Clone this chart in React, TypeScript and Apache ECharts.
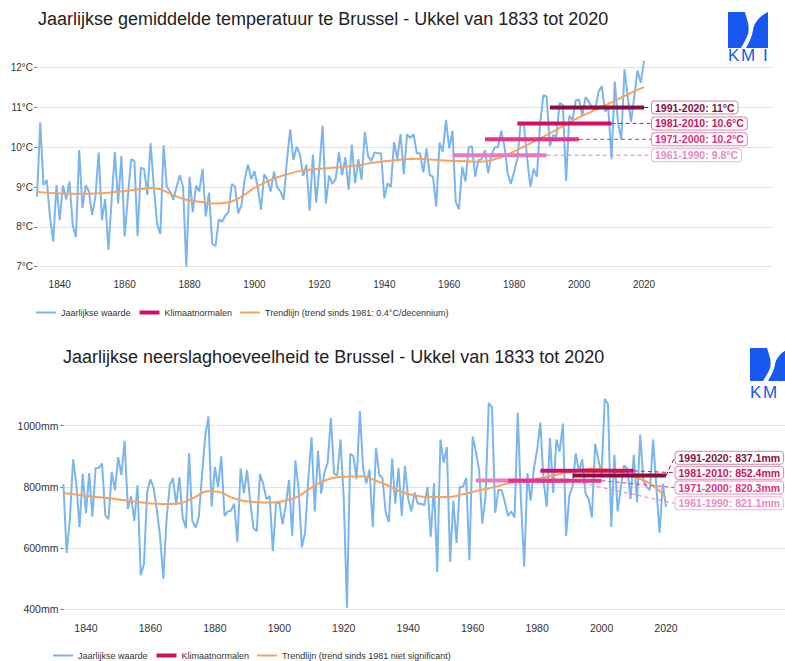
import React, { useEffect, useRef } from 'react';
import * as echarts from 'echarts';

// ---------- DATA ----------
const START_YEAR = 1833;

const tempValues = [
  8.76, 10.62, 9.05, 9.18, 8.25, 7.63, 9.05,
  8.17, 9.04, 8.69, 9.14, 8.05, 7.74, 9.93, 8.47, 9.05, 8.89,
  8.30, 8.76, 9.87, 8.17, 8.70, 7.42, 8.70, 9.88, 8.59, 9.78,
  7.76, 8.76, 9.70, 9.66, 7.77, 9.49, 9.45, 8.80, 10.10, 9.00,
  8.07, 7.82, 10.05, 9.00, 8.89, 8.68, 9.00, 9.30, 9.00, 7.00,
  9.26, 8.37, 9.04, 8.89, 9.46, 8.26, 8.86, 7.57, 7.52, 8.19,
  8.13, 8.28, 8.37, 9.08, 9.01, 8.34, 8.55, 9.20, 9.57, 9.20,
  9.40, 9.00, 8.43, 9.32, 9.18, 8.89, 9.39, 9.00, 8.89, 8.68,
  9.68, 10.45, 9.68, 10.02, 9.82, 9.28, 9.56, 8.41, 9.82, 8.61,
  9.51, 10.54, 8.59, 9.29, 9.08, 9.20, 9.87, 9.30, 9.75, 8.93,
  10.06, 9.10, 9.70, 9.18, 10.39, 9.77, 9.66, 9.87, 9.85, 9.85,
  8.72, 9.10, 9.00, 10.13, 9.71, 10.33, 9.32, 10.33, 10.23, 10.33,
  9.85, 9.85, 9.37, 9.97, 9.30, 9.26, 8.51, 10.12, 9.89, 10.69,
  9.97, 10.42, 8.63, 8.44, 9.51, 9.14, 10.00, 10.03, 9.26, 9.68,
  9.70, 9.93, 9.35, 9.81, 10.00, 10.00, 10.42, 10.03, 9.35, 9.08,
  9.39, 9.72, 10.60, 10.56, 9.72, 9.01, 9.46, 9.26, 10.60, 11.31,
  11.27, 10.03, 10.31, 10.27, 11.12, 11.06, 9.16, 10.79, 10.69, 11.19,
  11.19, 10.79, 11.26, 11.15, 10.98, 10.94, 11.40, 11.54, 10.90, 10.98,
  9.70, 11.65, 10.62, 10.20, 11.96, 11.27, 10.64, 11.27, 11.93, 11.62,
  12.17,
];

const precipValues = [
  809, 584, 692, 890, 811, 668, 843,
  714, 845, 703, 862, 862, 876, 708, 695, 849, 789,
  897, 838, 951, 728, 770, 689, 805, 511, 548, 784,
  825, 797, 724, 638, 499, 692, 805, 829, 741, 832,
  700, 665, 911, 690, 667, 700, 835, 965, 1030, 735,
  865, 800, 900, 705, 720, 722, 745, 620, 860, 780,
  855, 750, 665, 655, 842, 810, 760, 770, 590, 745,
  750, 678, 740, 823, 640, 887, 790, 603, 650, 825,
  962, 720, 918, 778, 848, 878, 1025, 843, 838, 955,
  760, 405, 908, 900, 825, 1048, 860, 812, 857, 668,
  928, 840, 830, 718, 685, 893, 745, 862, 705, 868,
  760, 720, 782, 745, 745, 740, 800, 637, 812, 522,
  955, 880, 930, 555, 755, 617, 800, 800, 830, 560,
  965, 915, 855, 680, 770, 1074, 1060, 715, 790, 790,
  750, 705, 720, 700, 1042, 750, 539, 845, 755, 860,
  920, 1010, 820, 735, 960, 780, 955, 915, 1007, 640,
  771, 800, 910, 850, 890, 780, 760, 700, 940, 890,
  840, 1088, 1070, 669, 905, 720, 800, 870, 860, 760,
  905, 750, 970, 820, 800, 790, 955, 800, 650, 810,
  735,
];

const years = tempValues.map((_, i) => START_YEAR + i);

const tempTrendYears = [1833, 1840, 1845, 1850, 1855, 1860, 1865, 1868, 1871, 1875, 1879, 1883, 1888, 1892, 1896, 1900, 1905, 1910, 1915, 1920, 1925, 1930, 1935, 1940, 1945, 1950, 1955, 1960, 1965, 1970, 1974, 1978, 1980, 1985, 1990, 1995, 2000, 2005, 2010, 2015, 2020];
const tempTrendValues = [8.88, 8.84, 8.83, 8.84, 8.86, 8.90, 8.95, 8.98, 8.94, 8.80, 8.68, 8.63, 8.59, 8.62, 8.76, 8.98, 9.18, 9.32, 9.42, 9.46, 9.49, 9.53, 9.59, 9.65, 9.69, 9.71, 9.69, 9.66, 9.65, 9.64, 9.70, 9.82, 9.90, 10.10, 10.31, 10.53, 10.75, 10.94, 11.13, 11.33, 11.51];

const precipTrendYears = [1833, 1840, 1845, 1850, 1855, 1860, 1864, 1868, 1873, 1878, 1881, 1886, 1892, 1898, 1903, 1906, 1910, 1915, 1920, 1925, 1930, 1934, 1937, 1942, 1947, 1952, 1957, 1962, 1967, 1972, 1978, 1983, 1988, 1993, 1997, 2001, 2005, 2010, 2015, 2020];
const precipTrendValues = [780, 771, 765, 759, 752, 746, 744, 745, 762, 786, 784, 762, 751, 749, 759, 770, 798, 824, 833, 835, 820, 803, 787, 772, 767, 767, 776, 789, 800, 814, 822, 833, 844, 854, 860, 857, 849, 833, 811, 765];

const normalStart = [1961, 1971, 1981, 1991];
const normalEnd = [1990, 2000, 2010, 2020];
const tempNormals = [9.8, 10.2, 10.6, 11.0];
const precipNormals = [821.1, 820.3, 852.4, 837.1];
const tempNormalLabels = ['1961-1990: 9.8°C', '1971-2000: 10.2°C', '1981-2010: 10.6°C', '1991-2020: 11°C'];
const precipNormalLabels = ['1961-1990: 821.1mm', '1971-2000: 820.3mm', '1981-2010: 852.4mm', '1991-2020: 837.1mm'];

const xTickLabels = [1840, 1860, 1880, 1900, 1920, 1940, 1960, 1980, 2000, 2020];

const TITLE_T = 'Jaarlijkse gemiddelde temperatuur te Brussel - Ukkel van 1833 tot 2020';
const TITLE_P = 'Jaarlijkse neerslaghoeveelheid te Brussel - Ukkel van 1833 tot 2020';
const NAME_ANNUAL = 'Jaarlijkse waarde';
const NAME_NORMALS = 'Klimaatnormalen';
const NAME_TREND_T = 'Trendlijn (trend sinds 1981: 0.4°C/decennium)';
const NAME_TREND_P = 'Trendlijn (trend sinds 1981 niet significant)';

// ---------- STYLE / LAYOUT ----------
const FONT = '"Liberation Sans", Arial, Helvetica, sans-serif';
const NARROW = '"Liberation Sans Narrow", "Arial Narrow", "Liberation Sans", sans-serif';
const BLUE = '#7cb5ec';
const ORANGE = '#f7a35c';
const NORMAL_COLORS = ['#e67cbf', '#e8338a', '#cf1060', '#8a0f3e'];
const NORMAL_TEXT = ['#e58ac6', '#de2f80', '#c8145a', '#8a0f3e'];
const NORMAL_BORDER = ['#f2b3da', '#ef86b8', '#e584aa', '#c98ba4'];
const LOGO_BLUE = '#1858f0';

const TEMP_GRID = { left: 37, top: 67.7, width: 735, height: 199 };
const TEMP_X_MAX = START_YEAR + 735 / 3.246;
const TEMP_Y = [7, 12];
const PREC_GRID = { left: 63.4, top: 425.7, width: 721.6, height: 183.6 };
const PREC_X_MAX = START_YEAR + 721.6 / 3.2225;
const PREC_Y = [400, 1000];
const TEMP_LABEL_X = 651;
const PREC_LABEL_X = 674.5;
const PREC_LABEL_Y = [503.3, 487.5, 472.7, 457.7];

echarts.graphic.registerShape(
  'kmiLeft',
  echarts.graphic.extendPath('M0,0 L17,0 C19,8 22,14 20,22 C18,28 15,32 13,36 L0,36 Z', {})
);
echarts.graphic.registerShape(
  'kmiRight',
  echarts.graphic.extendPath('M40,0 L40,36 L18,36 C21,30 24,25 25,18 C26,12 30,5 40,0 Z', {})
);

function pxToYear(grid: any, xMax: number, px: number) {
  return START_YEAR + ((px - grid.left) / grid.width) * (xMax - START_YEAR);
}
function pxToVal(grid: any, range: number[], py: number) {
  return range[1] - ((py - grid.top) / grid.height) * (range[1] - range[0]);
}

function buildSeries(idx: number, values: number[], trendX: number[], trendY: number[], trendName: string,
  normals: number[], labels: string[], labelYear: number, labelVals: number[], fontSize: number) {
  const s: any[] = [];
  s.push({
    type: 'line', name: NAME_ANNUAL, xAxisIndex: idx, yAxisIndex: idx,
    data: years.map((y, i) => [y, values[i]]), symbol: 'none', clip: false, silent: true,
    lineStyle: { width: 2, color: BLUE }, itemStyle: { color: BLUE }, z: 2,
  });
  s.push({
    type: 'line', name: trendName, xAxisIndex: idx, yAxisIndex: idx,
    data: trendX.map((y, i) => [y, trendY[i]]), symbol: 'none', smooth: true, silent: true,
    lineStyle: { width: 2, color: ORANGE }, itemStyle: { color: ORANGE }, z: 3,
  });
  normals.forEach((v, i) => {
    s.push({
      type: 'line', name: i === 2 ? NAME_NORMALS : `normaal-${idx}-${i}`, xAxisIndex: idx, yAxisIndex: idx,
      data: [[normalStart[i], v], [normalEnd[i], v]], symbol: 'none', silent: true,
      lineStyle: { width: 4, color: NORMAL_COLORS[i] }, itemStyle: { color: NORMAL_COLORS[i] }, z: 5 + i,
    });
    s.push({
      type: 'line', name: `verbinding-${idx}-${i}`, xAxisIndex: idx, yAxisIndex: idx,
      data: [[normalEnd[i], v], [labelYear, labelVals[i]]], symbol: 'none', silent: true,
      lineStyle: { width: 1, type: [4, 3], color: NORMAL_COLORS[i] }, itemStyle: { color: NORMAL_COLORS[i] }, z: 4,
      endLabel: {
        show: true, formatter: labels[i], distance: 1, color: NORMAL_TEXT[i], fontSize, fontWeight: 'bold',
        fontFamily: FONT, backgroundColor: '#fff', borderColor: NORMAL_BORDER[i], borderWidth: 1,
        borderRadius: 3, padding: [1, 3, 0, 3],
      },
    });
  });
  return s;
}

function logo(x: number, y: number, sy: number, textY: number, letters: string[]) {
  const offsets = [0, 13, 35];
  const els: any[] = [
    { type: 'kmiLeft', x, y, scaleY: sy, style: { fill: LOGO_BLUE }, silent: true },
    { type: 'kmiRight', x, y, scaleY: sy, style: { fill: LOGO_BLUE }, silent: true },
  ];
  letters.forEach((ch, i) => {
    els.push({ type: 'text', x: x + offsets[i], y: textY, style: { text: ch, fill: LOGO_BLUE, font: `17px ${FONT}` }, silent: true });
  });
  return els;
}

function legendData(trendName: string) {
  return [
    { name: NAME_ANNUAL, lineStyle: { width: 2, color: BLUE } },
    { name: NAME_NORMALS, lineStyle: { width: 4, color: NORMAL_COLORS[2] } },
    { name: trendName, lineStyle: { width: 2, color: ORANGE } },
  ];
}

export default function App() {
  const ref = useRef<HTMLDivElement>(null);
  useEffect(() => {
    if (!ref.current) return;
    const chart = echarts.init(ref.current, undefined, { renderer: 'svg' });
    const tempLabelYear = pxToYear(TEMP_GRID, TEMP_X_MAX, TEMP_LABEL_X);
    const precLabelYear = pxToYear(PREC_GRID, PREC_X_MAX, PREC_LABEL_X);
    const precLabelVals = PREC_LABEL_Y.map((py) => pxToVal(PREC_GRID, PREC_Y, py));

    const axisLabelBase = { color: '#333', fontFamily: FONT };
    const option: any = {
      animation: false,
      backgroundColor: '#ffffff',
      textStyle: { fontFamily: FONT },
      title: [
        { text: TITLE_T, left: 38, top: 10, padding: 0, textStyle: { fontSize: 18, fontWeight: 'normal', color: '#222', fontFamily: FONT } },
        { text: TITLE_P, left: 63, top: 348, padding: 0, textStyle: { fontSize: 18, fontWeight: 'normal', color: '#222', fontFamily: FONT } },
      ],
      grid: [
        { ...TEMP_GRID, containLabel: false },
        { ...PREC_GRID, containLabel: false },
      ],
      xAxis: [
        {
          type: 'value', gridIndex: 0, min: START_YEAR, max: TEMP_X_MAX,
          axisLine: { show: false }, axisTick: { show: false }, splitLine: { show: false },
          axisLabel: { ...axisLabelBase, fontSize: 10, margin: 13, customValues: xTickLabels, formatter: (v: number) => String(v) },
        },
        {
          type: 'value', gridIndex: 1, min: START_YEAR, max: PREC_X_MAX,
          axisLine: { show: false }, axisTick: { show: false }, splitLine: { show: false },
          axisLabel: { ...axisLabelBase, fontSize: 10.5, margin: 13, customValues: xTickLabels, formatter: (v: number) => String(v) },
        },
      ],
      yAxis: [
        {
          type: 'value', gridIndex: 0, min: TEMP_Y[0], max: TEMP_Y[1], interval: 1,
          axisLine: { show: false }, axisTick: { show: true, length: 3, lineStyle: { color: '#777' } },
          splitLine: { lineStyle: { color: '#e3e3e3', width: 1 } },
          axisLabel: { ...axisLabelBase, fontSize: 10, margin: 4, formatter: (v: number) => `${v}°C` },
        },
        {
          type: 'value', gridIndex: 1, min: PREC_Y[0], max: PREC_Y[1], interval: 200,
          axisLine: { show: false }, axisTick: { show: true, length: 3, lineStyle: { color: '#777' } },
          splitLine: { lineStyle: { color: '#e3e3e3', width: 1 } },
          axisLabel: { ...axisLabelBase, fontSize: 10.5, margin: 5, formatter: (v: number) => `${v}mm` },
        },
      ],
      legend: [
        {
          left: 35, top: 308, padding: 0, itemWidth: 20, itemHeight: 2, itemGap: 7, selectedMode: false,
          textStyle: { fontFamily: NARROW, fontSize: 9, color: '#333' },
          data: legendData(NAME_TREND_T),
        },
        {
          left: 52, top: 651, padding: 0, itemWidth: 20, itemHeight: 2, itemGap: 7, selectedMode: false,
          textStyle: { fontFamily: NARROW, fontSize: 9, color: '#333' },
          data: legendData(NAME_TREND_P),
        },
      ],
      series: [
        ...buildSeries(0, tempValues, tempTrendYears, tempTrendValues, NAME_TREND_T, tempNormals, tempNormalLabels, tempLabelYear, tempNormals, 10.5),
        ...buildSeries(1, precipValues, precipTrendYears, precipTrendValues, NAME_TREND_P, precipNormals, precipNormalLabels, precLabelYear, precLabelVals, 10.5),
      ],
      graphic: [
        ...logo(728, 12, 1, 47, ['K', 'M', 'I']),
        ...logo(750, 348, 33 / 36, 384, ['K', 'M']),
      ],
    };
    chart.setOption(option);
    return () => chart.dispose();
  }, []);
  return <div ref={ref} style={{ position: 'absolute', left: 0, top: 0, width: 785, height: 661 }} />;
}
